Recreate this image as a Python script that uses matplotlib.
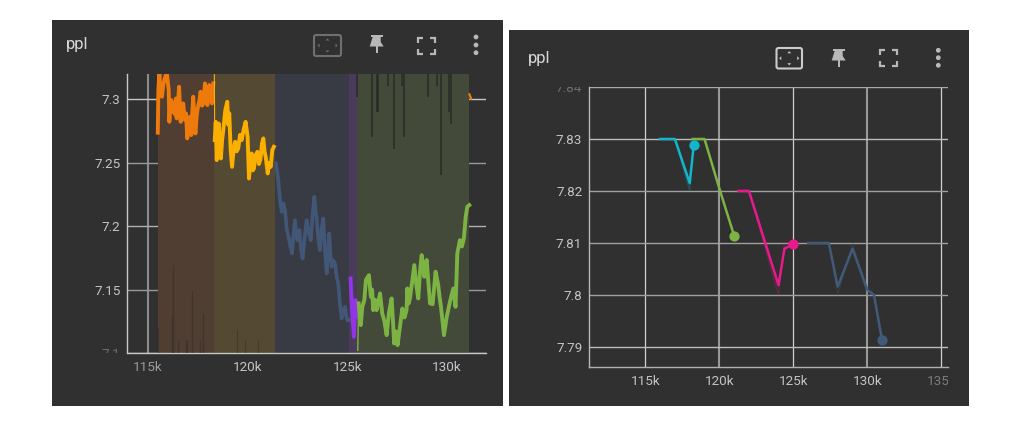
import matplotlib
matplotlib.use("Agg")
import matplotlib.pyplot as plt
from matplotlib.patches import FancyBboxPatch, Polygon, Rectangle, Circle
from matplotlib.transforms import Bbox

W, H = 1019, 421
CARD = '#303030'
plt.rcParams['font.family'] = ['Roboto', 'DejaVu Sans']

# left chart, runs
orange_x = [115.49, 115.52, 115.57, 115.63, 115.70, 115.77, 115.84, 115.94, 116.04, 116.07, 116.12, 116.17, 116.24, 116.30, 116.36, 116.40, 116.44, 116.50, 116.56, 116.60, 116.64, 116.70, 116.77, 116.84, 116.91, 116.97, 117.04, 117.11, 117.17, 117.22, 117.27, 117.33, 117.38, 117.45, 117.51, 117.58, 117.64, 117.71, 117.78, 117.86, 117.92, 117.98, 118.08, 118.14, 118.21, 118.28]
orange_y = [7.2737, 7.3073, 7.3210, 7.3050, 7.3021, 7.3120, 7.3165, 7.3210, 7.3073, 7.2823, 7.2960, 7.2994, 7.2900, 7.2968, 7.2880, 7.3007, 7.2850, 7.2960, 7.3099, 7.2950, 7.2823, 7.2930, 7.2968, 7.2840, 7.2889, 7.2692, 7.2800, 7.2863, 7.2718, 7.2890, 7.3021, 7.2850, 7.2731, 7.2880, 7.2942, 7.2990, 7.3060, 7.2950, 7.2968, 7.3126, 7.3020, 7.2955, 7.3113, 7.3000, 7.2968, 7.3126]
yellow_x = [118.33, 118.35, 118.40, 118.45, 118.50, 118.55, 118.60, 118.66, 118.72, 118.78, 118.88, 118.98, 119.03, 119.08, 119.15, 119.22, 119.30, 119.38, 119.45, 119.53, 119.62, 119.70, 119.80, 119.90, 120.00, 120.07, 120.14, 120.20, 120.26, 120.32, 120.40, 120.49, 120.57, 120.65, 120.72, 120.79, 120.85, 120.91, 121.01, 121.08, 121.16, 121.24, 121.32]
yellow_y = [7.3199, 7.2679, 7.2823, 7.2521, 7.2740, 7.2810, 7.2650, 7.2534, 7.2680, 7.2758, 7.2915, 7.2981, 7.2800, 7.2889, 7.2600, 7.2468, 7.2610, 7.2666, 7.2590, 7.2613, 7.2720, 7.2679, 7.2760, 7.2823, 7.2705, 7.2376, 7.2500, 7.2574, 7.2440, 7.2455, 7.2560, 7.2587, 7.2490, 7.2534, 7.2650, 7.2692, 7.2590, 7.2547, 7.2416, 7.2500, 7.2468, 7.2600, 7.2626]
blue_x = [121.43, 121.54, 121.63, 121.71, 121.80, 121.88, 121.96, 122.09, 122.16, 122.23, 122.30, 122.38, 122.44, 122.50, 122.60, 122.68, 122.76, 122.86, 122.96, 123.06, 123.17, 123.27, 123.35, 123.41, 123.47, 123.55, 123.63, 123.72, 123.80, 123.88, 123.97, 124.04, 124.10, 124.16, 124.22, 124.30, 124.39, 124.47, 124.55, 124.63, 124.72, 124.80, 124.89, 124.95, 125.01, 125.11]
blue_y = [7.2495, 7.2363, 7.2200, 7.2113, 7.2180, 7.2126, 7.1982, 7.1890, 7.1830, 7.1785, 7.1930, 7.2048, 7.1950, 7.1890, 7.1969, 7.1820, 7.1745, 7.1900, 7.2048, 7.1960, 7.1890, 7.2100, 7.2232, 7.2130, 7.2061, 7.1900, 7.1811, 7.1980, 7.2061, 7.1820, 7.1627, 7.1800, 7.1942, 7.1780, 7.1679, 7.1730, 7.1706, 7.1600, 7.1548, 7.1400, 7.1272, 7.1330, 7.1364, 7.1290, 7.1259, 7.1259]
purple_x = [125.17, 125.22, 125.29, 125.34, 125.42, 125.49]
purple_y = [7.1588, 7.1417, 7.1233, 7.1128, 7.1417, 7.1286]
lime_x = [125.53, 125.575, 125.68, 125.76, 125.86, 125.94, 126.09, 126.19, 126.25, 126.31, 126.40, 126.48, 126.56, 126.65, 126.76, 126.87, 126.98, 127.10, 127.23, 127.30, 127.36, 127.45, 127.53, 127.65, 127.77, 127.88, 127.98, 128.02, 128.08, 128.15, 128.26, 128.37, 128.47, 128.57, 128.66, 128.74, 128.87, 128.93, 128.99, 129.08, 129.16, 129.29, 129.44, 129.57, 129.64, 129.71, 129.86, 130.00, 130.16, 130.33, 130.44, 130.53, 130.66, 130.76, 130.86, 130.95, 131.03, 131.13]
lime_y = [7.1022, 7.1391, 7.1220, 7.1364, 7.1417, 7.1575, 7.1614, 7.1443, 7.1500, 7.1338, 7.1420, 7.1338, 7.1400, 7.1470, 7.1312, 7.1250, 7.1141, 7.1320, 7.1430, 7.1250, 7.1075, 7.1170, 7.1062, 7.1207, 7.1351, 7.1280, 7.1338, 7.1509, 7.1390, 7.1430, 7.1560, 7.1693, 7.1540, 7.1430, 7.1650, 7.1772, 7.1601, 7.1690, 7.1733, 7.1550, 7.1391, 7.1385, 7.1641, 7.1535, 7.1440, 7.1364, 7.1141, 7.1286, 7.1404, 7.1509, 7.1364, 7.1785, 7.1890, 7.1840, 7.1904, 7.2074, 7.2153, 7.2166]
tail_x = [131.14, 131.22]
tail_y = [7.3040, 7.3005]

# raw outliers that run off the chart
spike_low_x = [115.52, 116.22, 116.27, 116.52, 116.89, 116.96, 117.21, 117.59, 117.78, 119.48, 119.88, 120.52]
spike_low_y = [7.1206, 7.1299, 7.1693, 7.1101, 7.1101, 7.1101, 7.1496, 7.1101, 7.1312, 7.1193, 7.1101, 7.1101]
spike_high_x = [125.49, 126.23, 126.48, 126.56, 127.06, 127.33, 127.77, 127.85, 129.07, 129.51, 129.71, 130.13, 130.21]
spike_high_y = [7.3021, 7.2705, 7.2902, 7.2902, 7.3105, 7.2605, 7.3105, 7.2705, 7.3021, 7.3105, 7.2403, 7.2902, 7.2805]

# run limits, shaded on the left chart
span_edges = [115.48, 118.31, 121.39, 125.10, 125.50, 131.13]
span_colors = ['#4f3e31', '#544a33', '#383b44', '#4a3b5c', '#444a39']

left_xticks = [115000, 120000, 125000, 130000]
left_xlabels = ['115k', '120k', '125k', '130k']
left_yticks = [7.1, 7.15, 7.2, 7.25, 7.3]
left_ylabels = ['7.1', '7.15', '7.2', '7.25', '7.3']

# right chart, runs
cyan_x = [116, 117, 118, 118.27]
cyan_y = [7.83, 7.83, 7.8215, 7.8288]
cyan_raw = [7.83, 7.83, 7.82, 7.83]
green_x = [118.2, 119, 120, 121]
green_y = [7.83, 7.83, 7.8205, 7.8114]
pink_x = [121.3, 122, 124, 124.4, 125]
pink_y = [7.82, 7.82, 7.8019, 7.8089, 7.8098]
pink_raw = [7.82, 7.82, 7.80, 7.81, 7.81]
navy_x = [126, 127.4, 128, 129, 130, 130.45, 131]
navy_y = [7.81, 7.81, 7.8016, 7.8089, 7.801, 7.80, 7.7913]
navy_raw = [7.81, 7.81, 7.80, 7.81, 7.80, 7.80, 7.79]

right_xticks = [115000, 120000, 125000, 130000, 135000]
right_xlabels = ['115k', '120k', '125k', '130k', '135k']
right_yticks = [7.79, 7.8, 7.81, 7.82, 7.83, 7.84]
right_ylabels = ['7.79', '7.8', '7.81', '7.82', '7.83', '7.84']


def steps(values):
    return [v * 1000 for v in values]


def px_axes(fig, left, top, right, bottom):
    return fig.add_axes([left / W, 1 - bottom / H, (right - left) / W, (bottom - top) / H])


def clip_label(label, left, top, right, bottom):
    label.set_clip_box(Bbox([[left, H - bottom], [right, H - top]]))
    label.set_clip_on(True)


def style_axes(ax, xticks, xlabels, yticks, ylabels):
    ax.set_facecolor('none')
    ax.set_xticks(xticks)
    ax.set_xticklabels(xlabels)
    ax.set_yticks(yticks)
    ax.set_yticklabels(ylabels)
    ax.tick_params(axis='x', length=0, pad=6, labelsize=9.7, labelcolor='#c4c4c4')
    ax.tick_params(axis='y', length=0, pad=5, labelsize=9.7, labelcolor='#c4c4c4')
    for side in ['top', 'right']:
        ax.spines[side].set_visible(False)
    for side in ['left', 'bottom']:
        ax.spines[side].set_color('#c8c8c8')
        ax.spines[side].set_linewidth(1.0)


def draw_icons(ov, box, pin, frame, dots, color, box_color):
    # fit-to-data box
    x0, y0, x1, y1 = box
    ov.add_patch(FancyBboxPatch((x0, y0), x1 - x0, y1 - y0, boxstyle='round,pad=0,rounding_size=2',
                                fc='none', ec=box_color, lw=1.5))
    cx, cy = (x0 + x1) / 2, (y0 + y1) / 2
    ov.add_patch(Polygon([(cx - 2, cy - 5), (cx + 2, cy - 5), (cx, cy - 7)], fc=box_color, ec='none'))
    ov.add_patch(Polygon([(cx - 2, cy + 5), (cx + 2, cy + 5), (cx, cy + 7)], fc=box_color, ec='none'))
    ov.add_patch(Polygon([(cx - 8, cy - 2), (cx - 8, cy + 2), (cx - 10, cy)], fc=box_color, ec='none'))
    ov.add_patch(Polygon([(cx + 8, cy - 2), (cx + 8, cy + 2), (cx + 10, cy)], fc=box_color, ec='none'))
    # pin
    px, py = pin
    ov.add_patch(Rectangle((px - 6, py), 12, 2.2, fc=color, ec='none'))
    ov.add_patch(Polygon([(px - 4, py + 2), (px + 4, py + 2), (px + 4, py + 7), (px + 7, py + 11.5),
                          (px - 7, py + 11.5)], fc=color, ec='none'))
    ov.add_patch(Rectangle((px - 0.9, py + 11), 1.8, 7, fc=color, ec='none'))
    # fullscreen corners
    x0, y0, x1, y1 = frame
    for cxx, cyy, sx, sy in [(x0, y0, 1, 1), (x1, y0, -1, 1), (x0, y1, 1, -1), (x1, y1, -1, -1)]:
        ov.plot([cxx + 5 * sx, cxx, cxx], [cyy, cyy, cyy + 5 * sy], color=color, lw=1.6,
                solid_capstyle='butt', solid_joinstyle='miter')
    # menu dots
    for dx, dy in dots:
        ov.add_patch(Circle((dx, dy), 2.4, fc=color, ec='none'))


fig = plt.figure(figsize=(W / 100, H / 100), dpi=100, facecolor='white')

# cards and header icons
ov = fig.add_axes([0, 0, 1, 1])
ov.set_xlim(0, W)
ov.set_ylim(H, 0)
ov.axis('off')
ov.add_patch(Rectangle((52, 20), 451, 386, fc=CARD, ec='none'))
ov.add_patch(Rectangle((509, 30), 460, 376, fc=CARD, ec='none'))
ov.text(66, 45, 'ppl', color='#d8d8d8', fontsize=12, va='center', ha='left')
ov.text(528, 58, 'ppl', color='#d8d8d8', fontsize=12, va='center', ha='left')
draw_icons(ov, (314, 35, 341, 56), (376.7, 35), (418.5, 37.5, 435.5, 53.5),
           [(476, 37), (476, 45), (476, 52.7)], '#b8b8b8', '#6f6f6f')
draw_icons(ov, (776.5, 48, 802, 68.5), (838.7, 49), (880.5, 49.5, 897.5, 66),
           [(938.3, 50.3), (938.3, 57.7), (938.3, 65.3)], '#b8b8b8', '#cccccc')

# left chart
ax1 = px_axes(fig, 127.5, 74, 486, 353)
ax1.set_xlim(113970, 131970)
ax1.set_ylim(7.1, 7.32)
style_axes(ax1, left_xticks, left_xlabels, left_yticks, left_ylabels)
ax1.axvline(115000, color='#8c8c8c', lw=1.5, zorder=1)
for y, c in zip(left_yticks, ['#bdbdbd', '#9a9a9a', '#b0b0b0', '#9a9a9a', '#c8c8c8']):
    ax1.axhline(y, color=c, lw=1.0, zorder=1)
for i, c in enumerate(span_colors):
    ax1.axvspan(span_edges[i] * 1000, span_edges[i + 1] * 1000, color=c, lw=0, zorder=2)

ax1.vlines(steps(spike_low_x), 7.1, spike_low_y, color='#2c2c2c', lw=0.9, alpha=0.45, zorder=3)
ax1.vlines(steps(spike_high_x), spike_high_y, 7.32, color='#262626', lw=1.4, alpha=0.7, zorder=3)

ax1.plot(steps(blue_x), blue_y, color='#425778', lw=2.6, zorder=4)
ax1.plot(steps(orange_x), orange_y, color='#ee7a0b', lw=2.8, zorder=4)
ax1.plot(steps(yellow_x[:2]), yellow_y[:2], color='#fbb000', lw=0.8, zorder=4)
ax1.plot(steps(yellow_x[1:]), yellow_y[1:], color='#fbb000', lw=2.8, zorder=5)
ax1.plot(steps(purple_x), purple_y, color='#9334e6', lw=2.8, zorder=5)
ax1.plot(steps(lime_x[:2]), lime_y[:2], color='#7cb342', lw=1.0, zorder=6)
ax1.plot(steps(lime_x[1:]), lime_y[1:], color='#7cb342', lw=2.8, zorder=6)
ax1.plot(steps(tail_x), tail_y, color='#ee7a0b', lw=1.6, zorder=4)

for lab, tick in zip(ax1.get_yticklabels(), left_yticks):
    if tick == 7.1:
        lab.set_color('#6e6e6e')
    clip_label(lab, 60, 74, 127, 353)
ax1.get_xticklabels()[0].set_color('#9a9a9a')

# right chart
ax2 = px_axes(fig, 589.3, 87, 948, 366.7)
ax2.set_xlim(111216, 135450)
ax2.set_ylim(7.7862, 7.8399)
style_axes(ax2, right_xticks, right_xlabels, right_yticks, right_ylabels)
for x, c, w in zip(right_xticks, ['#d0d0d0', '#999999', '#d0d0d0', '#999999', '#d0d0d0'], [0.9, 1.5, 0.9, 1.5, 0.9]):
    ax2.axvline(x, color=c, lw=w, zorder=1)
for y, c in zip(right_yticks, ['#bdbdbd', '#a0a0a0', '#a0a0a0', '#a0a0a0', '#bdbdbd', '#a8a8a8']):
    ax2.axhline(y, color=c, lw=1.0, zorder=1)
ax2.spines['left'].set_color('#b8b8b8')
ax2.spines['bottom'].set_color('#b0b0b0')

ax2.plot(steps(cyan_x), cyan_raw, color='#12b5cb', lw=1.0, alpha=0.22, zorder=2)
ax2.plot(steps(pink_x), pink_raw, color='#e91e8c', lw=1.0, alpha=0.22, zorder=2)
ax2.plot(steps(navy_x), navy_raw, color='#3f5573', lw=1.0, alpha=0.3, zorder=2)

for xs, ys, c in [(cyan_x, cyan_y, '#12b5cb'), (green_x, green_y, '#7cb342'),
                  (pink_x, pink_y, '#e8198b'), (navy_x, navy_y, '#425a78')]:
    ax2.plot(steps(xs), ys, color=c, lw=1.8, zorder=4, solid_joinstyle='round')
    ax2.plot(steps(xs[-1:]), ys[-1:], 'o', color=c, ms=7.4, mew=0, zorder=5)

for lab, tick in zip(ax2.get_yticklabels(), right_yticks):
    if tick == 7.84:
        lab.set_color('#6e6e6e')
    clip_label(lab, 520, 87, 589, 380)
for lab, tick in zip(ax2.get_xticklabels(), right_xticks):
    if tick == 135000:
        lab.set_color('#7c7c7c')
    clip_label(lab, 589, 366, 948, 400)

fig.savefig('out.png', dpi=100, facecolor='white')
